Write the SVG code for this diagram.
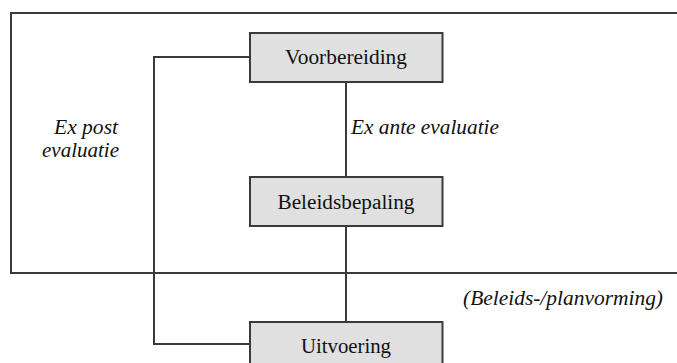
<svg xmlns="http://www.w3.org/2000/svg" width="677" height="363" viewBox="0 0 677 363">
  <style>
    .frame { fill: none; stroke: #3a3a3a; stroke-width: 2; }
    .link { fill: none; stroke: #3a3a3a; stroke-width: 2; }
    .box { fill: #e0e0e0; stroke: #3a3a3a; stroke-width: 2; }
    .lbl { font-family: "Liberation Serif", "Times New Roman", Times, serif; font-size: 20px; fill: #111; }
    .it { font-style: italic; }
  </style>
  <rect width="677" height="363" fill="#ffffff"/>

  <!-- policy-making frame (open to the right) -->
  <path class="frame" d="M680,13 H11 V273 H680"/>

  <g id="connectors">
    <path class="link" d="M346,82 V177"/>
    <path class="link" d="M346,226 V322"/>
    <!-- feedback loop from execution back to preparation -->
    <path class="link" d="M250,57 H154 V344 H250"/>
  </g>

  <g id="voorbereiding">
    <rect class="box" x="250" y="33" width="192.5" height="49"/>
    <text class="lbl" x="346" y="64" text-anchor="middle" textLength="122" lengthAdjust="spacingAndGlyphs">Voorbereiding</text>
  </g>

  <g id="beleidsbepaling">
    <rect class="box" x="250" y="177" width="192.5" height="49"/>
    <text class="lbl" x="346" y="209" text-anchor="middle" textLength="137" lengthAdjust="spacingAndGlyphs">Beleidsbepaling</text>
  </g>

  <g id="uitvoering">
    <rect class="box" x="250" y="322" width="192.5" height="60"/>
    <text class="lbl" x="346" y="353" text-anchor="middle" textLength="90" lengthAdjust="spacingAndGlyphs">Uitvoering</text>
  </g>

  <g id="labels">
    <text class="lbl it" x="351" y="134" textLength="148" lengthAdjust="spacingAndGlyphs">Ex ante evaluatie</text>
    <text class="lbl it" x="118" y="134" text-anchor="end" textLength="64" lengthAdjust="spacingAndGlyphs">Ex post</text>
    <text class="lbl it" x="42" y="157" textLength="77" lengthAdjust="spacingAndGlyphs">evaluatie</text>
    <text class="lbl it" x="463" y="305" textLength="200" lengthAdjust="spacingAndGlyphs">(Beleids-/planvorming)</text>
  </g>
</svg>
